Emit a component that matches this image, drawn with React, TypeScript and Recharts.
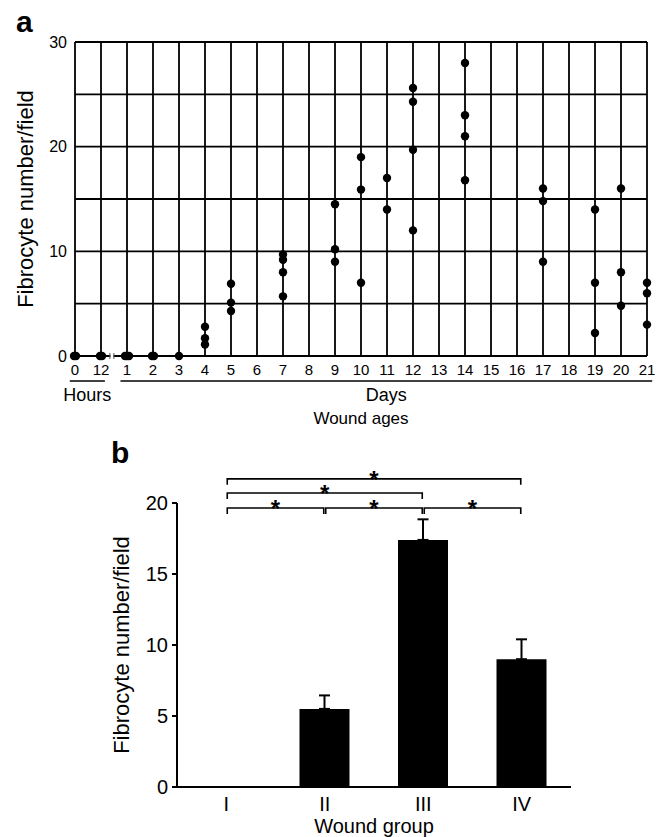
import React from 'react';
import {
  ScatterChart, Scatter, BarChart, Bar, XAxis, YAxis, CartesianGrid,
  ReferenceLine, ReferenceDot, ErrorBar
} from 'recharts';

// panel a: wound ages (0 h, 12 h, then days 1-21) and fibrocyte counts per case
const AGE_LABELS = ['0', '12', '1', '2', '3', '4', '5', '6', '7', '8', '9', '10', '11', '12', '13', '14', '15', '16', '17', '18', '19', '20', '21'];
const AGE_COUNTS: number[][] = [
  [0, 0],                 // 0 h
  [0, 0],                 // 12 h
  [0, 0, 0],              // day 1
  [0, 0],                 // day 2
  [0],                    // day 3
  [2.8, 1.7, 1.1],        // day 4
  [6.9, 5.1, 4.3],        // day 5
  [],                     // day 6
  [9.7, 9.2, 8.0, 5.7],   // day 7
  [],                     // day 8
  [14.5, 10.2, 9.0],      // day 9
  [19.0, 15.9, 7.0],      // day 10
  [17.0, 14.0],           // day 11
  [25.6, 24.3, 19.7, 12.0], // day 12
  [],                     // day 13
  [28.0, 23.0, 21.0, 16.8], // day 14
  [],                     // day 15
  [],                     // day 16
  [16.0, 14.8, 9.0],      // day 17
  [],                     // day 18
  [14.0, 7.0, 2.2],       // day 19
  [16.0, 8.0, 4.8],       // day 20
  [7.0, 6.0, 3.0],        // day 21
];
const AGE_Y_TICKS = [0, 5, 10, 15, 20, 25, 30];

// spans of the "Hours" / "Days" underlines, in age-index units
const HOURS_SPAN = [-0.2, 1.15];
const DAYS_SPAN = [1.75, 22.2];
const SPAN_Y = -2.4;
const AXIS_BREAK_AT = 1.42;

// panel b: wound groups, mean and SEM
const GROUPS = ['I', 'II', 'III', 'IV'];
const GROUP_MEANS = [0, 5.5, 17.4, 9.0];
const GROUP_SEM = [0, 0.95, 1.45, 1.4];
const GROUP_Y_TICKS = [0, 5, 10, 15, 20];

const BRACKETS = [
  { from: 'I', to: 'IV', y: 21.7 },
  { from: 'I', to: 'III', y: 20.7 },
  { from: 'I', to: 'II', y: 19.65 },
  { from: 'II', to: 'III', y: 19.65 },
  { from: 'III', to: 'IV', y: 19.65 },
];

const agePoints = AGE_COUNTS.flatMap((vals, i) =>
  vals.map((v, k) => {
    const same = vals.filter((w) => w === v).length;
    const rank = vals.slice(0, k).filter((w) => w === v).length;
    // overlapping identical values are nudged apart a little, like in the figure
    return { x: i, y: v, dx: (rank - (same - 1) / 2) * 2 };
  })
);

const groupData = GROUPS.map((g, i) => ({ group: g, mean: GROUP_MEANS[i], err: [0, GROUP_SEM[i]] }));

const Dot = (p: any) => (
  <circle cx={p.cx + (p.payload?.dx || 0)} cy={p.cy} r={4.2} fill="#000" />
);

const BreakMark = (p: any) => (
  <g>
    <rect x={p.cx - 1.5} y={p.cy - 1} width={3} height={2} fill="#fff" />
    <line x1={p.cx - 2} y1={p.cy - 3} x2={p.cx - 2} y2={p.cy + 3} stroke="#555" strokeWidth={1} />
    <line x1={p.cx + 2} y1={p.cy - 3} x2={p.cx + 2} y2={p.cy + 3} stroke="#555" strokeWidth={1} />
  </g>
);

const Bracket = (p: any) => {
  const l = Math.min(p.x1, p.x2) + 1;
  const r = Math.max(p.x1, p.x2) - 1;
  const y = p.y1;
  return (
    <g>
      <path d={`M${l},${y + 6} V${y} H${r} V${y + 6}`} fill="none" stroke="#000" strokeWidth={1.6} />
      <text x={(l + r) / 2} y={y + 9} textAnchor="middle" fontSize={24} fontWeight="bold" fill="#000">*</text>
    </g>
  );
};

const font = '"Liberation Sans", Arial, Helvetica, sans-serif';

export default function App() {
  return (
    <div style={{ position: 'absolute', left: 0, top: 0, width: 662, height: 837, background: '#fff', fontFamily: font }}>
      <div style={{ position: 'absolute', left: 0, top: 0 }}>
        <ScatterChart width={662} height={440} margin={{ top: 42, right: 15, left: 0, bottom: 0 }}>
          <CartesianGrid stroke="#000" strokeWidth={1.8} />
          <XAxis
            type="number" dataKey="x" domain={[0, 22]} ticks={AGE_LABELS.map((_, i) => i)} interval={0}
            tickFormatter={(i: number) => AGE_LABELS[i]} axisLine={false} tickLine={false} height={84}
            tick={{ fill: '#000', fontSize: 15 }}
            label={{ value: 'Wound ages', position: 'insideBottom', offset: 16, fill: '#000', fontSize: 17 }}
          />
          <YAxis
            type="number" dataKey="y" domain={[0, 30]} ticks={AGE_Y_TICKS} interval={0}
            tickFormatter={(v: number) => (v % 10 === 0 ? String(v) : '')} axisLine={false} tickLine={false} width={75}
            tick={{ fill: '#000', fontSize: 16 }}
            label={{ value: 'Fibrocyte number/field', angle: -90, position: 'insideLeft', offset: 25, fill: '#000', fontSize: 22, style: { textAnchor: 'middle' } }}
          />
          <Scatter data={agePoints} shape={Dot} isAnimationActive={false} />
          <ReferenceLine
            segment={[{ x: HOURS_SPAN[0], y: SPAN_Y }, { x: HOURS_SPAN[1], y: SPAN_Y }]}
            ifOverflow="visible" stroke="#000" strokeWidth={1.5}
            label={{ value: 'Hours', position: 'bottom', offset: 7, fill: '#000', fontSize: 18 }}
          />
          <ReferenceLine
            segment={[{ x: DAYS_SPAN[0], y: SPAN_Y }, { x: DAYS_SPAN[1], y: SPAN_Y }]}
            ifOverflow="visible" stroke="#000" strokeWidth={1.5}
            label={{ value: 'Days', position: 'bottom', offset: 7, fill: '#000', fontSize: 18 }}
          />
          <ReferenceDot x={AXIS_BREAK_AT} y={0} ifOverflow="visible" shape={BreakMark} />
        </ScatterChart>
      </div>

      <div style={{ position: 'absolute', left: 0, top: 430 }}>
        <BarChart width={662} height={407} data={groupData} margin={{ top: 73, right: 91, left: 0, bottom: 0 }}>
          <XAxis
            dataKey="group" axisLine={{ stroke: '#000', strokeWidth: 2 }} tickLine={false} tickSize={6} tickMargin={4}
            height={50} tick={{ fill: '#000', fontSize: 20 }}
            label={{ value: 'Wound group', position: 'insideBottom', offset: 4, fill: '#000', fontSize: 20 }}
          />
          <YAxis
            domain={[0, 20]} ticks={GROUP_Y_TICKS} interval={0} width={177}
            axisLine={{ stroke: '#000', strokeWidth: 2 }} tickLine={{ stroke: '#000', strokeWidth: 2 }}
            tickSize={5} tickMargin={4} tick={{ fill: '#000', fontSize: 20 }}
            label={{ value: 'Fibrocyte number/field', angle: -90, position: 'insideLeft', offset: 121, fill: '#000', fontSize: 22, style: { textAnchor: 'middle' } }}
          />
          <Bar dataKey="mean" fill="#000" barSize={50} isAnimationActive={false}>
            <ErrorBar dataKey="err" direction="y" width={5.5} stroke="#000" strokeWidth={2} />
          </Bar>
          {BRACKETS.map((b, i) => (
            <ReferenceLine
              key={i}
              segment={[{ x: b.from, y: b.y }, { x: b.to, y: b.y }]}
              ifOverflow="visible"
              shape={Bracket}
            />
          ))}
        </BarChart>
      </div>

      <svg width={662} height={837} style={{ position: 'absolute', left: 0, top: 0, pointerEvents: 'none' }}>
        <text x={16} y={32} fontSize={30} fontWeight="bold" fill="#000">a</text>
        <text x={111} y={463} fontSize={30} fontWeight="bold" fill="#000">b</text>
      </svg>
    </div>
  );
}
